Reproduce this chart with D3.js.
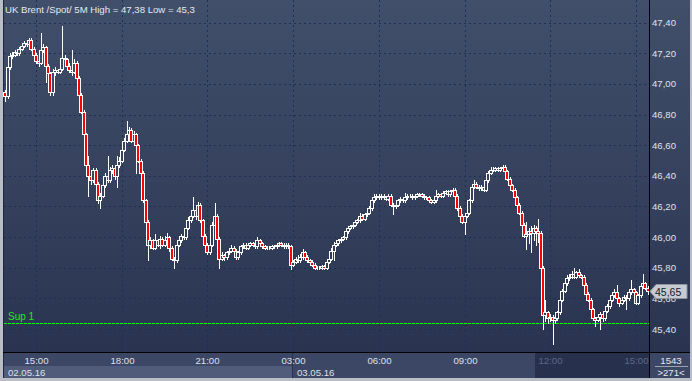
<!DOCTYPE html>
<html><head><meta charset="utf-8">
<script src="https://cdn.jsdelivr.net/npm/d3@7"></script>
<style>html,body{margin:0;padding:0;background:#3a4664;overflow:hidden}</style>
</head><body>
<svg id="c" width="692" height="381"></svg>
<script>
const titleText = "UK Brent /Spot/  5M High = 47,38 Low = 45,3";
const opens = [
46.95,46.92,47.11,47.18,47.19,47.21,47.20,47.23,47.25,47.27,
47.26,47.29,47.23,47.19,47.15,47.14,47.22,47.24,47.12,47.07,
46.95,47.08,47.09,47.08,47.10,47.17,47.16,47.12,47.09,47.08,
47.14,47.04,46.93,46.82,46.67,46.47,46.40,46.37,46.44,46.35,
46.24,46.27,46.34,46.40,46.37,46.44,46.45,46.40,46.47,46.50,
46.57,46.63,46.67,46.70,46.63,46.67,46.60,46.50,46.42,46.24,
46.10,45.95,45.98,45.93,45.98,45.95,45.99,45.95,45.98,46.00,
45.93,45.86,45.85,45.95,45.98,46.01,46.00,46.06,46.11,46.14,
46.18,46.14,46.21,46.11,46.01,45.95,45.90,45.95,46.08,46.14,
45.99,45.86,45.88,45.87,45.90,45.91,45.93,45.91,45.87,45.90,
45.94,45.95,45.93,45.95,45.96,45.95,45.94,45.98,45.96,45.94,
45.93,45.93,45.93,45.94,45.94,45.95,45.96,45.95,45.94,45.95,
45.94,45.82,45.84,45.86,45.85,45.87,45.90,45.87,45.85,45.84,
45.82,45.80,45.80,45.80,45.81,45.80,45.84,45.86,45.91,45.95,
45.96,45.98,45.99,46.00,46.04,46.06,46.07,46.08,46.10,46.11,
46.14,46.12,46.15,46.16,46.19,46.24,46.26,46.27,46.26,46.27,
46.26,46.25,46.27,46.21,46.20,46.21,46.24,46.25,46.24,46.26,
46.27,46.27,46.26,46.27,46.28,46.28,46.27,46.26,46.26,46.24,
46.23,46.24,46.27,46.28,46.27,46.29,46.30,46.28,46.30,46.31,
46.27,46.19,46.14,46.10,46.14,46.16,46.24,46.33,46.35,46.33,
46.32,46.33,46.31,46.37,46.42,46.44,46.44,46.45,46.44,46.45,
46.46,46.43,46.38,46.34,46.31,46.26,46.21,46.16,46.08,46.01,
46.02,46.04,46.03,46.06,46.04,46.03,45.80,45.49,45.51,45.47,
45.48,45.46,45.47,45.51,45.59,45.65,45.70,45.73,45.74,45.76,
45.74,45.77,45.75,45.74,45.69,45.63,45.59,45.53,45.47,45.46,
45.48,45.50,45.47,45.52,45.55,45.59,45.62,45.64,45.60,45.57,
45.59,45.61,45.60,45.64,45.66,45.64,45.57,45.62,45.68,45.70,
45.67];
const closes = [
46.92,47.11,47.18,47.19,47.21,47.20,47.23,47.25,47.27,47.26,
47.29,47.23,47.19,47.15,47.14,47.22,47.24,47.12,47.07,46.95,
47.08,47.09,47.08,47.10,47.17,47.16,47.12,47.09,47.08,47.14,
47.04,46.93,46.82,46.67,46.47,46.40,46.37,46.44,46.35,46.24,
46.27,46.34,46.40,46.37,46.44,46.45,46.40,46.47,46.50,46.57,
46.63,46.67,46.70,46.63,46.67,46.60,46.50,46.42,46.24,46.10,
45.95,45.98,45.93,45.98,45.95,45.99,45.95,45.98,46.00,45.93,
45.86,45.85,45.95,45.98,46.01,46.00,46.06,46.11,46.14,46.18,
46.14,46.21,46.11,46.01,45.95,45.90,45.95,46.08,46.14,45.99,
45.86,45.88,45.87,45.90,45.91,45.93,45.91,45.87,45.90,45.94,
45.95,45.93,45.95,45.96,45.95,45.94,45.98,45.96,45.94,45.93,
45.93,45.93,45.94,45.94,45.95,45.96,45.95,45.94,45.95,45.94,
45.82,45.84,45.86,45.85,45.87,45.90,45.87,45.85,45.84,45.82,
45.80,45.80,45.80,45.81,45.80,45.84,45.86,45.91,45.95,45.96,
45.98,45.99,46.00,46.04,46.06,46.07,46.08,46.10,46.11,46.14,
46.12,46.15,46.16,46.19,46.24,46.26,46.27,46.26,46.27,46.26,
46.25,46.27,46.21,46.20,46.21,46.24,46.25,46.24,46.26,46.27,
46.27,46.26,46.27,46.28,46.28,46.27,46.26,46.26,46.24,46.23,
46.24,46.27,46.28,46.27,46.29,46.30,46.28,46.30,46.31,46.27,
46.19,46.14,46.10,46.14,46.16,46.24,46.33,46.35,46.33,46.32,
46.33,46.31,46.37,46.42,46.44,46.44,46.45,46.44,46.45,46.46,
46.43,46.38,46.34,46.31,46.26,46.21,46.16,46.08,46.01,46.02,
46.04,46.03,46.06,46.04,46.03,45.80,45.49,45.51,45.47,45.48,
45.46,45.47,45.51,45.59,45.65,45.70,45.73,45.74,45.76,45.74,
45.77,45.75,45.74,45.69,45.63,45.59,45.53,45.47,45.46,45.48,
45.50,45.47,45.52,45.55,45.59,45.62,45.64,45.60,45.57,45.59,
45.61,45.60,45.64,45.66,45.64,45.57,45.62,45.68,45.70,45.67,
45.65];
const highs = [
46.96,47.12,47.20,47.21,47.22,47.23,47.24,47.27,47.28,47.29,
47.30,47.30,47.24,47.20,47.17,47.33,47.26,47.25,47.13,47.08,
47.10,47.11,47.10,47.12,47.38,47.19,47.17,47.14,47.22,47.16,
47.15,47.05,46.94,46.83,46.68,46.53,46.42,46.45,46.45,46.36,
46.29,46.36,46.42,46.53,46.46,46.47,46.46,46.53,46.52,46.59,
46.65,46.76,46.72,46.71,46.69,46.68,46.61,46.51,46.43,46.25,
46.11,46.00,45.99,46.02,45.99,46.01,46.00,46.01,46.03,46.01,
45.94,45.87,45.96,45.99,46.02,46.02,46.07,46.13,46.16,46.26,
46.19,46.23,46.22,46.12,46.02,45.96,45.97,46.10,46.22,46.15,
46.00,45.90,45.89,45.91,45.92,45.95,45.94,45.92,45.91,45.95,
45.96,45.96,45.96,45.97,45.97,45.96,46.00,45.99,45.97,45.95,
45.94,45.94,45.95,45.95,45.96,45.97,45.97,45.96,45.96,45.96,
45.95,45.85,45.87,45.88,45.89,45.92,45.91,45.88,45.86,45.85,
45.83,45.81,45.81,45.82,45.82,45.85,45.87,45.93,45.97,45.97,
45.99,46.00,46.01,46.05,46.07,46.08,46.09,46.11,46.12,46.16,
46.15,46.16,46.17,46.20,46.25,46.28,46.28,46.28,46.28,46.28,
46.27,46.28,46.28,46.22,46.22,46.25,46.26,46.26,46.29,46.28,
46.28,46.28,46.28,46.29,46.29,46.29,46.28,46.27,46.27,46.25,
46.25,46.31,46.29,46.29,46.30,46.31,46.31,46.31,46.32,46.32,
46.28,46.20,46.15,46.15,46.17,46.25,46.34,46.37,46.36,46.34,
46.34,46.34,46.38,46.43,46.46,46.46,46.46,46.46,46.46,46.47,
46.47,46.44,46.39,46.35,46.32,46.27,46.22,46.17,46.09,46.10,
46.06,46.07,46.08,46.07,46.12,46.04,45.81,45.59,45.52,45.50,
45.49,45.48,45.52,45.60,45.66,45.72,45.75,45.76,45.78,45.80,
45.78,45.79,45.76,45.75,45.70,45.64,45.60,45.54,45.48,45.49,
45.51,45.51,45.53,45.56,45.60,45.64,45.66,45.69,45.61,45.60,
45.62,45.62,45.65,45.72,45.67,45.65,45.63,45.69,45.76,45.71,
45.68];
const lows = [
46.89,46.91,47.10,47.17,47.18,47.19,47.19,47.22,47.24,47.25,
47.25,47.22,47.18,47.14,47.12,47.13,47.21,47.01,47.05,46.93,
46.93,47.06,47.07,47.07,47.09,47.15,47.11,47.08,47.06,47.07,
47.03,46.92,46.81,46.66,46.45,46.27,46.35,46.36,46.33,46.22,
46.19,46.26,46.33,46.36,46.36,46.42,46.38,46.33,46.46,46.49,
46.56,46.62,46.66,46.62,46.62,46.42,46.49,46.41,46.23,46.09,
45.85,45.93,45.92,45.92,45.94,45.93,45.94,45.94,45.96,45.91,
45.85,45.80,45.84,45.94,45.97,45.99,45.99,46.05,46.10,46.13,
46.12,46.13,46.10,46.00,45.94,45.89,45.89,45.94,46.07,45.98,
45.80,45.85,45.85,45.86,45.89,45.90,45.90,45.86,45.86,45.89,
45.93,45.92,45.92,45.94,45.94,45.93,45.93,45.95,45.93,45.92,
45.92,45.92,45.92,45.93,45.93,45.94,45.94,45.93,45.93,45.93,
45.79,45.81,45.83,45.84,45.84,45.86,45.86,45.84,45.83,45.81,
45.79,45.79,45.79,45.79,45.79,45.79,45.83,45.85,45.85,45.94,
45.95,45.97,45.98,45.99,46.03,46.05,46.06,46.07,46.09,46.10,
46.11,46.11,46.14,46.15,46.18,46.23,46.25,46.25,46.25,46.25,
46.24,46.24,46.20,46.15,46.19,46.20,46.23,46.23,46.23,46.25,
46.26,46.25,46.25,46.26,46.27,46.26,46.25,46.25,46.23,46.22,
46.22,46.23,46.26,46.26,46.26,46.28,46.27,46.27,46.29,46.26,
46.18,46.13,46.09,46.02,46.13,46.15,46.23,46.32,46.32,46.31,
46.31,46.30,46.30,46.36,46.41,46.43,46.43,46.43,46.43,46.44,
46.42,46.37,46.33,46.30,46.25,46.20,46.15,46.07,46.00,45.92,
45.96,45.90,45.98,45.95,45.97,45.79,45.40,45.45,45.44,45.45,
45.30,45.44,45.46,45.50,45.58,45.64,45.69,45.72,45.73,45.73,
45.73,45.74,45.73,45.68,45.62,45.58,45.52,45.46,45.42,45.45,
45.40,45.45,45.46,45.51,45.54,45.58,45.61,45.59,45.55,45.56,
45.58,45.53,45.59,45.63,45.63,45.56,45.56,45.61,45.67,45.66,
45.63];
const priceTicks = [45.4,45.6,45.8,46.0,46.2,46.4,46.6,46.8,47.0,47.2,47.4];
const timeTickIndex = [13,49,85,121,157,193,229,265];
const timeTickLabels = ["15:00","18:00","21:00","03:00","06:00","09:00","12:00","15:00"];
const dateLabels = ["02.05.16","03.05.16"];
const dateStartIndex = [0,121];
const supportLevel = 45.44;
const supportLabel = "Sup 1";
const lastPrice = 45.65;
const totalBars = "1543";
const visibleBars = ">271<";

const W = 692, H = 381;
const L = 3, R = 649, T = 0, B = 352;
const font = "'Liberation Sans', Arial, sans-serif";
const svg = d3.select("#c");
const defs = svg.append("defs");
const g1 = defs.append("linearGradient").attr("id","bg").attr("gradientUnits","userSpaceOnUse")
  .attr("x1",0).attr("y1",0).attr("x2",0).attr("y2",B);
g1.append("stop").attr("offset","0").attr("stop-color","#414f6b");
g1.append("stop").attr("offset","1").attr("stop-color","#2a3450");

svg.append("rect").attr("width",W).attr("height",H).attr("fill","#b9bdc5");
svg.append("rect").attr("x",L).attr("y",0).attr("width",W-2-L).attr("height",B).attr("fill","url(#bg)");
svg.append("rect").attr("x",L).attr("y",B).attr("width",W-2-L).attr("height",H-3-B).attr("fill","#3c4765");

const x = d3.scaleLinear().domain([-0.5, closes.length-0.5]).range([4, R]);
const y = d3.scaleLinear().domain([45.4, 47.4]).range([329, 22.7]);
const px = i => Math.round(x(i));
const fmt = v => d3.format(".2f")(v).replace(".", ",");

const grid = svg.append("g").attr("stroke","#1d2f52").attr("stroke-width",1).attr("stroke-dasharray","2,3").attr("shape-rendering","crispEdges");
grid.selectAll("line.h").data(priceTicks).join("line")
  .attr("x1",L+1).attr("x2",R).attr("y1",d=>Math.round(y(d))+0.5).attr("y2",d=>Math.round(y(d))+0.5);
grid.selectAll("line.v").data(timeTickIndex).join("line")
  .attr("y1",T).attr("y2",B).attr("x1",d=>px(d)+0.5).attr("x2",d=>px(d)+0.5);

svg.append("line").attr("x1",3.5).attr("x2",3.5).attr("y1",0).attr("y2",H-3).attr("stroke","#202840");

// support line
const ys = Math.round(y(supportLevel))+0.5;
svg.append("line").attr("x1",L+1).attr("x2",R).attr("y1",ys).attr("y2",ys)
  .attr("stroke","#00ff00").attr("stroke-width",1).attr("stroke-dasharray","3,1").attr("shape-rendering","crispEdges");
svg.append("text").attr("x",8).attr("y",ys-4).attr("fill","#22e822")
  .attr("font-family",font).attr("font-size","10px").text(supportLabel);

// candles
const idx = d3.range(closes.length);
const cg = svg.append("g").attr("shape-rendering","crispEdges");
cg.selectAll("line.w").data(idx).join("line")
  .attr("x1",i=>px(i)+0.5).attr("x2",i=>px(i)+0.5)
  .attr("y1",i=>Math.round(y(highs[i]))).attr("y2",i=>Math.round(y(lows[i]))+1)
  .attr("stroke","#ffffff");
cg.selectAll("rect.b").data(idx).join("rect")
  .attr("x",i=>px(i)-1.5).attr("width",3)
  .attr("y",i=>Math.round(y(Math.max(opens[i],closes[i])))+0.5)
  .attr("height",i=>Math.max(0,Math.round(y(Math.min(opens[i],closes[i])))-Math.round(y(Math.max(opens[i],closes[i])))))
  .attr("fill",i=>closes[i]<opens[i] ? "#ff0000" : "url(#bg)")
  .attr("stroke","#ffffff").attr("stroke-width",1);

svg.append("line").attr("x1",R+0.5).attr("x2",R+0.5).attr("y1",0).attr("y2",H-3).attr("stroke","#000").attr("shape-rendering","crispEdges");
svg.append("line").attr("x1",L).attr("x2",W-2).attr("y1",B+0.5).attr("y2",B+0.5).attr("stroke","#000").attr("shape-rendering","crispEdges");

svg.append("text").attr("x",5).attr("y",13).attr("fill","#e6e9f0").attr("font-family",font).attr("font-size","9.6px").text(titleText);

svg.append("g").selectAll("text").data(priceTicks).join("text")
  .attr("x",652).attr("y",d=>y(d)+3.5).attr("fill","#dfe3ec").attr("font-family",font).attr("font-size","9.6px").text(fmt);

const dateEnd = x(dateStartIndex[1]-0.5);
svg.append("rect").attr("x",4).attr("y",366).attr("width",dateEnd-4).attr("height",12).attr("fill","#505c79");
svg.append("line").attr("x1",Math.round(dateEnd)+0.5).attr("x2",Math.round(dateEnd)+0.5).attr("y1",B+1).attr("y2",H-3).attr("stroke","#2a3450");
const shadeStart = 535;
svg.append("rect").attr("x",shadeStart).attr("y",B+1).attr("width",R-shadeStart).attr("height",H-3-B-1).attr("fill","#27314d");
svg.append("g").selectAll("text").data(timeTickIndex).join("text")
  .attr("x",d=>px(d)+0.5).attr("y",364).attr("text-anchor","middle")
  .attr("fill",d=>x(d)>shadeStart ? "#5b6888" : "#dde1ea")
  .attr("font-family",font).attr("font-size","9.6px").text((d,i)=>timeTickLabels[i]);
svg.append("g").selectAll("text").data(dateStartIndex).join("text")
  .attr("x",(d,i)=> i===0 ? 8 : Math.round(dateEnd)+5).attr("y",375.5)
  .attr("fill","#dde1ea").attr("font-family",font).attr("font-size","9.6px").text((d,i)=>dateLabels[i]);

svg.append("text").attr("x",671).attr("y",364).attr("text-anchor","middle").attr("fill","#e6e9f0").attr("font-family",font).attr("font-size","9.6px").text(totalBars);
svg.append("line").attr("x1",655).attr("x2",688).attr("y1",366.5).attr("y2",366.5).attr("stroke","#9aa2b4");
svg.append("text").attr("x",671).attr("y",376).attr("text-anchor","middle").attr("fill","#e6e9f0").attr("font-family",font).attr("font-size","9.6px").text(visibleBars);

const yp = Math.round(y(lastPrice))+0.5;
svg.append("path").attr("d",`M650,${yp} L656,${yp-7} L687,${yp-7} L687,${yp+7} L656,${yp+7} Z`)
  .attr("fill","#c7cbd3").attr("stroke","#8e94a0");
svg.append("text").attr("x",655).attr("y",yp+4).attr("fill","#141a28").attr("font-family",font).attr("font-size","10.5px").text(fmt(lastPrice));
</script>
</body></html>
